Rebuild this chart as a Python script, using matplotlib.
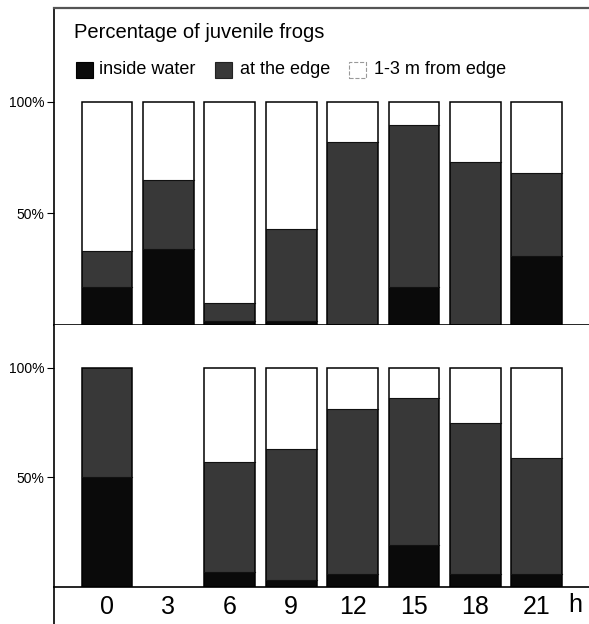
import matplotlib
matplotlib.use("Agg")
import matplotlib.pyplot as plt
from matplotlib.patches import Rectangle
from matplotlib.lines import Line2D
import numpy as np

plt.rcParams['font.family'] = ['Liberation Sans', 'DejaVu Sans']

hours = ["0", "3", "6", "9", "12", "15", "18", "21"]
# top panel (percent)
top_inside = [17, 34, 2, 2, 0, 17, 0, 31]
top_edge = [16, 31, 8, 41, 82, 72.5, 73, 37]
top_far = [67, 35, 90, 57, 18, 10.5, 27, 32]
# bottom panel (percent); 3 h has no data
bot_inside = [50, np.nan, 7, 3, 6, 19, 6, 6]
bot_edge = [50, np.nan, 50, 60, 75, 67, 69, 53]
bot_far = [0, np.nan, 43, 37, 19, 14, 25, 41]

title = "Percentage of juvenile frogs"
legend_labels = ["inside water", "at the edge", "1-3 m from edge"]
ytick_vals = [50, 100]
ytick_labels = ["50%", "100%"]

C_IN = "#0a0a0a"
C_EDGE = "#383838"
C_FAR = "#ffffff"

W, H = 589, 624
fig = plt.figure(figsize=(W / 100, H / 100), dpi=100)

def fr(x0, y0, x1, y1):
    return [x0 / W, 1 - y1 / H, (x1 - x0) / W, (y1 - y0) / H]

ax1 = fig.add_axes(fr(54, 8, 589, 325))
ax2 = fig.add_axes(fr(54, 325, 589, 587))

x = np.arange(len(hours))
bw = 0.83

def draw(ax, inside, edge, far, ylim):
    inside = np.array(inside, float)
    edge = np.array(edge, float)
    far = np.array(far, float)
    ax.bar(x, inside, bw, color=C_IN, edgecolor='none', zorder=2)
    ax.bar(x, edge, bw, bottom=inside, color=C_EDGE, edgecolor='none', zorder=2)
    ax.bar(x, far, bw, bottom=inside + edge, color=C_FAR, edgecolor='none', zorder=2)
    tot = inside + edge + far
    ax.bar(x, tot, bw, fill=False, edgecolor='black', linewidth=1.1, zorder=3)
    # boundary lines between segments
    for xi, a, b in zip(x, inside, inside + edge):
        if np.isnan(a):
            continue
        for v in (a, b):
            if 0 < v < 100:
                ax.plot([xi - bw / 2, xi + bw / 2], [v, v], color='#111111', lw=0.8, zorder=3)
    ax.set_xlim(-0.863, 7.85)
    ax.set_ylim(*ylim)
    ax.set_yticks(ytick_vals)
    ax.set_yticklabels(ytick_labels, fontsize=10)
    ax.tick_params(axis='y', direction='out', length=5, width=0.8, pad=2)
    ax.spines['right'].set_visible(False)
    ax.spines['left'].set_linewidth(1.2)
    ax.spines['bottom'].set_linewidth(1.2)

draw(ax1, top_inside, top_edge, top_far, (0, 142))
draw(ax2, bot_inside, bot_edge, bot_far, (0, 119.5))

ax1.spines['top'].set_color('#555555')
ax1.spines['top'].set_linewidth(1.6)
ax1.set_xticks([])
ax2.spines['top'].set_visible(False)
ax2.set_xticks(x)
ax2.set_xticklabels(hours, fontsize=18)
ax2.tick_params(axis='x', length=0, pad=6)
ax2.text(7.62, -8.4, "h", fontsize=18, ha='center', va='center',
         transform=ax2.transData, clip_on=False)

# left axis line continues down to the bottom of the figure
fig.add_artist(Line2D([54 / W, 54 / W], [0, 1 - 587 / H], color='black',
                      lw=1.2, transform=fig.transFigure))

# title and legend
def px(xp, yp):
    return xp / W, 1 - yp / H

fig.text(*px(74, 33), title, fontsize=14.5, ha='left', va='center')
keys = [(76, C_IN, 'black', '-'), (215, C_EDGE, '#222222', '-'), (349, C_FAR, '#999999', '--')]
txt_x = [99, 240, 374]
for (kx, fc, ec, ls), tx, lab in zip(keys, txt_x, legend_labels):
    x0, y0 = px(kx, 78)
    fig.add_artist(Rectangle((x0, y0), 17 / W, 16 / H, facecolor=fc,
                             edgecolor=ec, lw=0.8, linestyle=ls,
                             transform=fig.transFigure))
    fig.text(*px(tx, 70), lab, fontsize=13, ha='left', va='center')

fig.savefig("out.png", dpi=100)
